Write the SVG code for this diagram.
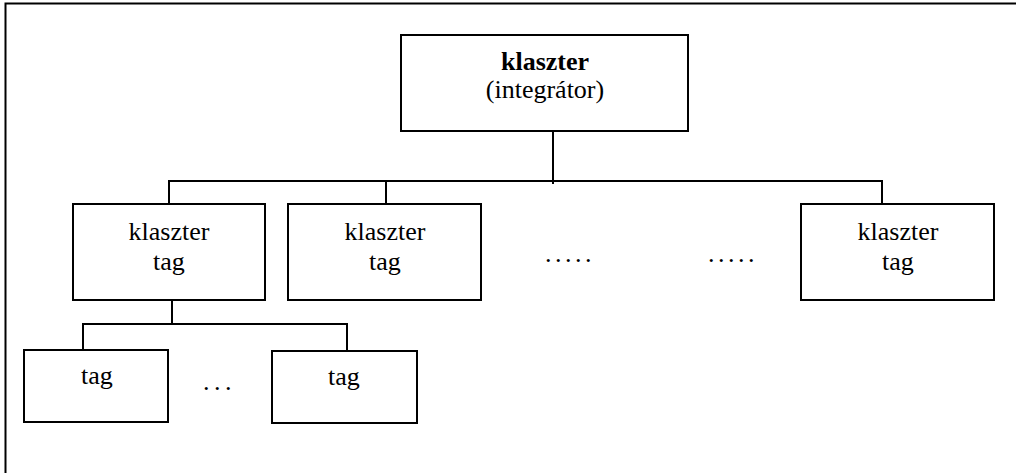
<svg xmlns="http://www.w3.org/2000/svg" width="1016" height="473" viewBox="0 0 1016 473">
<style>
.box{fill:#fff;stroke:#000;stroke-width:2}
.ln{fill:none;stroke:#000;stroke-width:2}
.t{font-family:"Liberation Serif","Times New Roman",serif;font-size:26px;fill:#000;text-anchor:middle}
.b{font-weight:bold}
.d{font-family:"Liberation Serif","Times New Roman",serif;font-size:26px;fill:#000}
</style>
<rect width="1016" height="473" fill="#fff"/>
<g id="frame">
<path class="ln" d="M5.5,473 V3.5 H1016" stroke-width="2.5"/>
</g>
<g id="connectors">
<path class="ln" d="M553,126 V184"/>
<path class="ln" d="M169,204 V181 H882 V204"/>
<path class="ln" d="M386,181 V204"/>
<path class="ln" d="M172,300 V324"/>
<path class="ln" d="M83,350 V324 H347 V351"/>
</g>
<g id="integrator">
<rect class="box" x="401" y="35" width="287" height="96"/>
<text class="t b" x="545" y="70">klaszter</text>
<text class="t" x="545" y="98">(integrátor)</text>
</g>
<g id="member1">
<rect class="box" x="73" y="204" width="192" height="96"/>
<text class="t" x="169" y="240">klaszter</text>
<text class="t" x="169" y="270">tag</text>
</g>
<g id="member2">
<rect class="box" x="288" y="204" width="193" height="96"/>
<text class="t" x="385" y="240">klaszter</text>
<text class="t" x="385" y="270">tag</text>
</g>
<g id="member3">
<rect class="box" x="801" y="204" width="193" height="96"/>
<text class="t" x="898" y="240">klaszter</text>
<text class="t" x="898" y="270">tag</text>
</g>
<g id="tag1">
<rect class="box" x="24" y="350" width="144" height="72"/>
<text class="t" x="97" y="384">tag</text>
</g>
<g id="tag2">
<rect class="box" x="272" y="351" width="145" height="72"/>
<text class="t" x="344" y="385">tag</text>
</g>
<g id="dots">
<text class="d" x="545" y="262" letter-spacing="3.5">.....</text>
<text class="d" x="708" y="262" letter-spacing="3.5">.....</text>
<text class="d" x="203" y="390" letter-spacing="4.5">...</text>
</g>
</svg>
